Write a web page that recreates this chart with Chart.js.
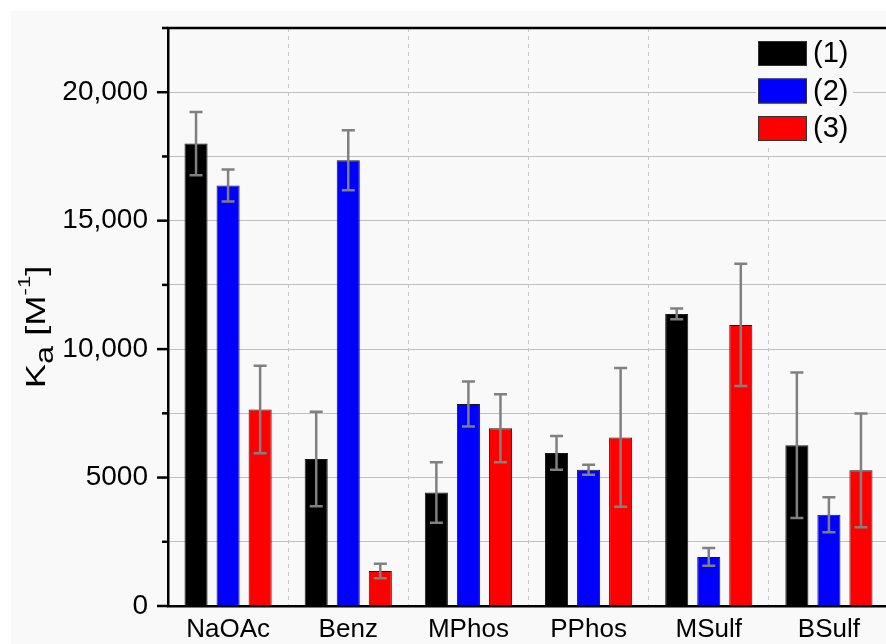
<!DOCTYPE html>
<html>
<head>
<meta charset="utf-8">
<script src="https://cdn.jsdelivr.net/npm/chart.js@4"></script>
<style>
  html, body { margin: 0; padding: 0; background: #fff; overflow: hidden; width: 886px; height: 644px; }
  #panel { position: absolute; left: 11px; top: 11px; right: 0; bottom: 0; background: #f9f9f9; }
  #chart { position: absolute; left: 0; top: 0; }
</style>
</head>
<body>
<div id="panel"></div>
<canvas id="chart" width="900" height="644"></canvas>
<script>
// Association constants per guest, three hosts
const categories = ['NaOAc', 'Benz', 'MPhos', 'PPhos', 'MSulf', 'BSulf'];
const seriesNames = ['(1)', '(2)', '(3)'];
const seriesColors = ['#000000', '#0000ff', '#ff0000'];

const series1 = [18000, 5720, 4420, 5960, 11370, 6260];
const err1 = [1230, 1840, 1180, 660, 210, 2830];
const series2 = [16370, 17350, 7860, 5300, 1910, 3550];
const err2 = [620, 1170, 875, 195, 345, 680];
const series3 = [7650, 1365, 6920, 6560, 10940, 5280];
const err3 = [1700, 280, 1320, 2700, 2380, 2210];

const yTicks = [0, 5000, 10000, 15000, 20000];
const yTickLabels = ['0', '5000', '10,000', '15,000', '20,000'];

const FONT = '"Liberation Sans", Arial, sans-serif';
const errors = [err1, err2, err3];

// Grey error bars with caps
const errorBars = {
    id: 'errorBars',
    afterDatasetsDraw(chart) {
        const ctx = chart.ctx;
        const y = chart.scales.y;
        ctx.save();
        ctx.strokeStyle = '#808080';
        ctx.lineWidth = 2.5;
        chart.data.datasets.forEach((ds, di) => {
            chart.getDatasetMeta(di).data.forEach((bar, i) => {
                const v = ds.data[i], e = errors[di][i];
                const yTop = y.getPixelForValue(v + e);
                const yBot = y.getPixelForValue(v - e);
                ctx.beginPath();
                ctx.moveTo(bar.x, yTop); ctx.lineTo(bar.x, yBot);
                ctx.moveTo(bar.x - 6.5, yTop); ctx.lineTo(bar.x + 6.5, yTop);
                ctx.moveTo(bar.x - 6.5, yBot); ctx.lineTo(bar.x + 6.5, yBot);
                ctx.stroke();
            });
        });
        ctx.restore();
    }
};

// Legend box in top right corner of the plot
const boxLegend = {
    id: 'boxLegend',
    afterDatasetsDraw(chart) {
        const { ctx, chartArea } = chart;
        ctx.save();
        ctx.fillStyle = '#f9f9f9';
        ctx.fillRect(756, chartArea.top + 1, 97, 116);
        ctx.font = '29px ' + FONT;
        ctx.textBaseline = 'middle';
        chart.data.datasets.forEach((ds, i) => {
            const top = 41 + i * 37.5;
            ctx.fillStyle = ds.backgroundColor;
            ctx.fillRect(758, top, 49, 25);
            ctx.strokeStyle = '#333';
            ctx.lineWidth = 1;
            ctx.strokeRect(758.5, top + 0.5, 48, 24);
            ctx.fillStyle = '#000';
            ctx.fillText(ds.label, 813, top + 13);
        });
        ctx.restore();
    }
};

// Top frame line, outward y ticks and the y title with sub/superscript
const frame = {
    id: 'frame',
    afterDraw(chart) {
        const { ctx, chartArea } = chart;
        const y = chart.scales.y;
        ctx.save();
        ctx.strokeStyle = '#000';
        ctx.lineWidth = 2.5;
        ctx.beginPath();
        ctx.moveTo(chartArea.left - 1.25, chartArea.top);
        ctx.lineTo(chartArea.right, chartArea.top);
        ctx.lineTo(chartArea.right, chartArea.bottom);
        ctx.stroke();

        for (let v = 0; v <= 22500; v += 2500) {
            const py = y.getPixelForValue(v);
            const len = v % 5000 === 0 ? 11 : 6;
            ctx.beginPath();
            ctx.moveTo(chartArea.left - len, py);
            ctx.lineTo(chartArea.left, py);
            ctx.stroke();
        }

        // K_a [M^-1], a bit stretched along the text like the original
        ctx.translate(45, 327);
        ctx.rotate(-Math.PI / 2);
        ctx.scale(1.3, 1);
        ctx.fillStyle = '#000';
        ctx.textBaseline = 'alphabetic';
        const parts = [
            { t: 'K', size: 28, dy: 0 },
            { t: 'a', size: 25, dy: 8 },
            { t: ' [M', size: 28, dy: 0 },
            { t: '-1', size: 17, dy: -15 },
            { t: ']', size: 28, dy: 0 }
        ];
        let total = 0;
        parts.forEach(p => { ctx.font = p.size + 'px ' + FONT; p.w = ctx.measureText(p.t).width; total += p.w; });
        let x = -total / 2;
        parts.forEach(p => {
            ctx.font = p.size + 'px ' + FONT;
            ctx.fillText(p.t, x, p.dy);
            x += p.w;
        });
        ctx.restore();
    }
};

const ctx = document.getElementById('chart').getContext('2d');
new Chart(ctx, {
    type: 'bar',
    data: {
        labels: categories,
        datasets: [series1, series2, series3].map((data, i) => ({
            label: seriesNames[i],
            data: data,
            backgroundColor: seriesColors[i],
            borderColor: '#1a1a1a',
            borderWidth: 1,
            categoryPercentage: 0.8,
            barPercentage: 0.72
        }))
    },
    options: {
        responsive: false,
        animation: false,
        layout: { padding: { top: 28, right: 11, left: 0, bottom: 0 } },
        plugins: {
            legend: { display: false },
            tooltip: { enabled: false }
        },
        scales: {
            x: {
                grid: { color: '#c8c8c8', lineWidth: 1, drawTicks: false, offset: true },
                border: { display: true, color: '#000', width: 2.5, dash: [4, 4], z: 1 },
                ticks: { color: '#000', font: { family: FONT, size: 26 }, padding: 8 },
                afterFit: s => { s.height = 38; }
            },
            y: {
                min: 0,
                max: 22500,
                grid: { color: '#c0c0c0', lineWidth: 1, drawTicks: false },
                border: { display: true, color: '#000', width: 2.5, z: 1 },
                ticks: {
                    stepSize: 2500,
                    color: '#000',
                    font: { family: FONT, size: 28 },
                    padding: 20,
                    callback: value => {
                        const i = yTicks.indexOf(value);
                        return i >= 0 ? yTickLabels[i] : '';
                    }
                },
                afterFit: s => {
                    s.width = 168;
                    s.paddingTop = 0;
                    s.paddingBottom = 0;
                }
            }
        }
    },
    plugins: [errorBars, boxLegend, frame]
});
</script>
</body>
</html>
